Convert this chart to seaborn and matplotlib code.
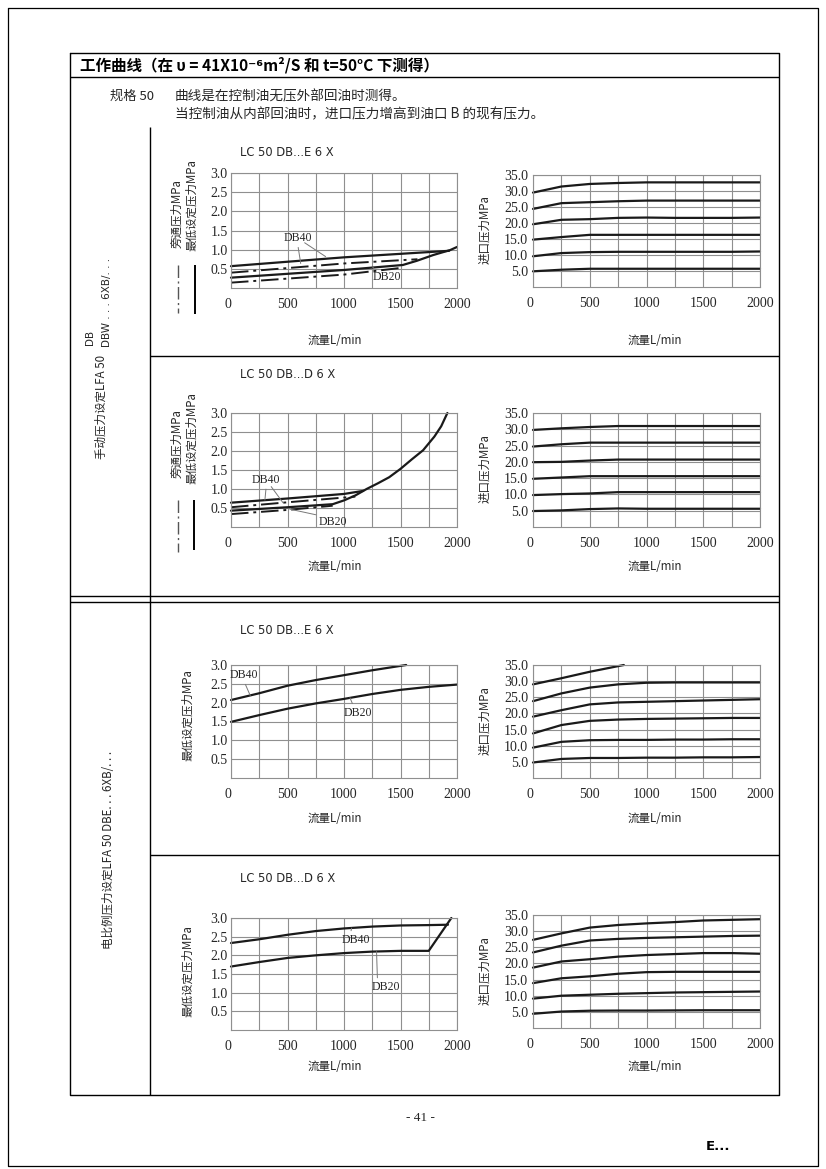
import matplotlib
matplotlib.use("Agg")
import matplotlib.pyplot as plt
import seaborn as sns

# ---------------- data ----------------
flow_grid = [0, 250, 500, 750, 1000, 1250, 1500, 1750, 2000]
x_ticks = [0, 500, 1000, 1500, 2000]
x_tick_labels = ["0", "500", "1000", "1500", "2000"]
x_minor = [250, 750, 1250, 1750]
yl_ticks = [0.5, 1.0, 1.5, 2.0, 2.5, 3.0]
yl_tick_labels = ["0.5", "1.0", "1.5", "2.0", "2.5", "3.0"]
yr_ticks = [5, 10, 15, 20, 25, 30, 35]
yr_tick_labels = ["5.0", "10.0", "15.0", "20.0", "25.0", "30.0", "35.0"]

# Chart 1: LC 50 DB...E 6 X (manual)
m_e_db40_min_x = [0, 1000, 1930]
m_e_db40_min_y = [0.57, 0.80, 0.97]
m_e_db40_byp_x = [0, 1000, 1650]
m_e_db40_byp_y = [0.40, 0.64, 0.75]
m_e_db20_min_x = [0, 500, 1000, 1520, 1645, 1790, 1940, 2000]
m_e_db20_min_y = [0.27, 0.37, 0.47, 0.60, 0.71, 0.86, 0.99, 1.07]
m_e_db20_byp_x = [0, 1000, 1520]
m_e_db20_byp_y = [0.14, 0.35, 0.53]

# Chart 2: LC 50 DB...D 6 X (manual)
m_d_db40_min_x = [0, 500, 1000, 1170]
m_d_db40_min_y = [0.64, 0.75, 0.87, 0.95]
m_d_db40_byp_x = [0, 500, 1100]
m_d_db40_byp_y = [0.52, 0.65, 0.80]
m_d_db20_min_x = [0, 500, 900, 1000, 1100, 1200, 1300, 1400, 1500, 1600, 1700, 1800, 1860, 1915]
m_d_db20_min_y = [0.43, 0.52, 0.60, 0.70, 0.83, 1.00, 1.15, 1.31, 1.53, 1.78, 2.02, 2.38, 2.65, 3.00]
m_d_db20_byp_x = [0, 500, 900]
m_d_db20_byp_y = [0.34, 0.45, 0.56]

# Chart 3: LC 50 DB...E 6 X (electric)
e_e_db40_x = [0, 250, 500, 750, 1000, 1250, 1550]
e_e_db40_y = [2.07, 2.25, 2.45, 2.60, 2.73, 2.86, 3.00]
e_e_db20_x = [0, 250, 500, 750, 1000, 1250, 1500, 1750, 2000]
e_e_db20_y = [1.49, 1.67, 1.84, 1.98, 2.10, 2.23, 2.34, 2.42, 2.48]

# Chart 4: LC 50 DB...D 6 X (electric)
e_d_db40_x = [0, 250, 500, 750, 1000, 1250, 1500, 1750, 1920]
e_d_db40_y = [2.33, 2.43, 2.55, 2.65, 2.72, 2.77, 2.80, 2.81, 2.82]
e_d_db20_x = [0, 250, 500, 750, 1000, 1250, 1500, 1750, 1950]
e_d_db20_y = [1.70, 1.82, 1.93, 2.00, 2.06, 2.10, 2.12, 2.12, 3.00]

# Inlet pressure charts (right column)
r1_curves = [
    [29.5, 31.4, 32.2, 32.5, 32.7, 32.7, 32.7, 32.7, 32.7],
    [24.4, 26.2, 26.5, 26.8, 27.0, 27.0, 27.0, 27.0, 27.0],
    [19.6, 21.0, 21.2, 21.6, 21.7, 21.6, 21.6, 21.6, 21.7],
    [14.8, 15.6, 16.3, 16.3, 16.3, 16.3, 16.3, 16.3, 16.3],
    [9.6, 10.6, 10.9, 11.0, 11.0, 11.0, 11.0, 11.0, 11.1],
    [4.9, 5.4, 5.7, 5.7, 5.7, 5.7, 5.7, 5.7, 5.7],
]
r2_curves = [
    [29.8, 30.3, 30.7, 31.0, 31.0, 31.0, 31.0, 31.0, 31.0],
    [24.7, 25.4, 25.9, 25.9, 25.9, 25.9, 25.9, 25.9, 25.9],
    [19.9, 20.0, 20.4, 20.7, 20.7, 20.7, 20.7, 20.7, 20.7],
    [14.8, 15.2, 15.6, 15.6, 15.6, 15.6, 15.6, 15.6, 15.6],
    [9.8, 10.1, 10.3, 10.7, 10.7, 10.7, 10.7, 10.7, 10.7],
    [4.9, 5.1, 5.5, 5.7, 5.6, 5.6, 5.6, 5.6, 5.6],
]
r3_top_x = [0, 250, 500, 800]
r3_top_y = [29.0, 30.9, 32.9, 35.0]
r3_curves = [
    [23.8, 26.2, 28.0, 29.0, 29.5, 29.6, 29.6, 29.6, 29.6],
    [19.0, 21.0, 22.8, 23.4, 23.6, 23.8, 24.0, 24.2, 24.4],
    [13.8, 16.4, 17.7, 18.1, 18.3, 18.4, 18.5, 18.6, 18.6],
    [9.4, 11.2, 11.7, 11.8, 11.8, 11.9, 11.9, 12.0, 12.0],
    [4.8, 5.9, 6.2, 6.2, 6.3, 6.3, 6.4, 6.4, 6.5],
]
r4_curves = [
    [27.3, 29.3, 31.1, 31.9, 32.4, 32.8, 33.3, 33.5, 33.7],
    [23.4, 25.5, 27.1, 27.6, 27.9, 28.1, 28.3, 28.5, 28.6],
    [18.7, 20.6, 21.3, 22.1, 22.6, 22.9, 23.2, 23.2, 23.0],
    [13.9, 15.4, 16.0, 16.8, 17.3, 17.4, 17.4, 17.4, 17.4],
    [9.1, 10.0, 10.3, 10.6, 10.8, 11.0, 11.1, 11.2, 11.3],
    [4.4, 5.1, 5.35, 5.4, 5.4, 5.45, 5.5, 5.5, 5.5],
]

# ---------------- style ----------------
sns.set_theme(style="white")
plt.rcParams["font.family"] = ["Noto Sans CJK SC", "DejaVu Sans"]
plt.rcParams["axes.unicode_minus"] = False

W, H = 826, 1169
fig = plt.figure(figsize=(W / 100, H / 100), dpi=100)
fig.patch.set_facecolor("white")

INK = "#1a1a1a"
GRID = "#8f8f8f"
TXT = "#262626"
SERIF = ["Liberation Serif", "DejaVu Serif"]
DASHDOT = (0, (9, 2.5, 1.5, 2.5))

bg = fig.add_axes([0, 0, 1, 1])
bg.set_xlim(0, W)
bg.set_ylim(H, 0)
bg.axis("off")
bg.set_zorder(-1)


def hline(y, x0, x1, lw=1.0):
    bg.plot([x0, x1], [y, y], color="black", lw=lw, solid_capstyle="butt")


def vline(x, y0, y1, lw=1.0, **kw):
    bg.plot([x, x], [y0, y1], lw=lw, solid_capstyle="butt", **kw)


# page border
bg.plot([8, 818, 818, 8, 8], [8, 8, 1166, 1166, 8], color="black", lw=0.9)
# table
bg.plot([70, 779, 779, 70, 70], [53, 53, 1095, 1095, 53], color="black", lw=1.0)
hline(77, 70, 779)
vline(150, 127, 1095, color="black")
hline(356, 150, 779)
hline(596, 70, 779)
hline(602, 70, 779)
hline(855, 150, 779)

# header texts
bg.text(80, 65, "工作曲线（在 υ = 41X10⁻⁶m²/S 和 t=50°C 下测得）", fontsize=11.2,
        fontweight="bold", ha="left", va="center", color="black")
bg.text(110, 96, "规格 50", fontsize=9.5, ha="left", va="center", color=TXT)
bg.text(175, 96, "曲线是在控制油无压外部回油时测得。", fontsize=9.8, ha="left", va="center", color=TXT)
bg.text(175, 114, "当控制油从内部回油时，进口压力增高到油口 B 的现有压力。", fontsize=9.8,
        ha="left", va="center", color=TXT)

# left column labels
bg.text(101, 459, "手动压力设定LFA 50", fontsize=8.3, rotation=90, rotation_mode="anchor",
        ha="left", va="center", color=TXT)
bg.text(90, 345, "DB", fontsize=7.5, rotation=90, rotation_mode="anchor",
        ha="left", va="center", color=TXT, family="DejaVu Sans")
bg.text(107, 347, "DBW . . . 6XB/. . .", fontsize=7.5, rotation=90, rotation_mode="anchor",
        ha="left", va="center", color=TXT, family="DejaVu Sans")
bg.text(109, 949, "电比例压力设定LFA 50 DBE. . . 6XB/. . .", fontsize=8.3, rotation=90,
        rotation_mode="anchor", ha="left", va="center", color=TXT)

# footer
bg.text(420, 1118, "- 41 -", fontsize=9.5, ha="center", va="center", family=SERIF, color=TXT)
bg.text(706, 1146, "E...", fontsize=9.5, fontweight="bold", ha="left", va="center",
        family="DejaVu Sans", color="black")


def px_axes(x0, y0, x1, y1):
    return fig.add_axes([x0 / W, 1 - y1 / H, (x1 - x0) / W, (y1 - y0) / H])


def style(ax, right):
    ax.set_xlim(0, 2000)
    ax.set_xticks(x_ticks)
    ax.set_xticklabels(x_tick_labels)
    ax.set_xticks(x_minor, minor=True)
    if right:
        ax.set_ylim(0, 35)
        ax.set_yticks(yr_ticks)
        ax.set_yticklabels(yr_tick_labels)
    else:
        ax.set_ylim(0, 3.0)
        ax.set_yticks(yl_ticks)
        ax.set_yticklabels(yl_tick_labels)
    ax.set_facecolor("white")
    ax.grid(True, which="both", color=GRID, lw=0.8)
    ax.set_axisbelow(True)
    for s in ax.spines.values():
        s.set_color(GRID)
        s.set_linewidth(0.8)
        s.set_visible(True)
    ax.tick_params(which="both", length=0)
    ax.tick_params(axis="x", pad=7)
    ax.tick_params(axis="y", pad=3.5 if right else 2.5)
    for lab in ax.get_xticklabels() + ax.get_yticklabels():
        lab.set_family(SERIF)
        lab.set_fontsize(10)
        lab.set_color(TXT)
    ax.get_xticklabels()[0].set_ha("right")
    ax.set_xlabel("")
    ax.set_ylabel("")


def curve(ax, x, y, dashdot=False, lw=1.6):
    kw = dict(linestyle=DASHDOT) if dashdot else {}
    sns.lineplot(x=x, y=y, ax=ax, color=INK, lw=lw, sort=False, estimator=None, **kw)


def leader(ax, text, txy, targets):
    ax.annotate(text, xy=targets[0][1], xytext=txy, textcoords="data", fontsize=8.5,
                family=SERIF, ha="center", va="center", color=TXT,
                arrowprops=dict(arrowstyle="-", color="#777777", lw=0.7,
                                shrinkA=0, shrinkB=0, relpos=targets[0][0]))
    for rel, t in targets[1:]:
        ax.annotate("", xy=t, xytext=txy, textcoords="data",
                    arrowprops=dict(arrowstyle="-", color="#777777", lw=0.7,
                                    shrinkA=6, shrinkB=0))


rows = [
    dict(top=173, bot=288, rtop=175, rbot=287, title="LC 50 DB...E 6 X", ty=153, xl=340),
    dict(top=413, bot=527, rtop=413, rbot=527, title="LC 50 DB...D 6 X", ty=375, xl=567),
    dict(top=665, bot=778, rtop=665, rbot=778, title="LC 50 DB...E 6 X", ty=630, xl=818),
    dict(top=918, bot=1030, rtop=915, rbot=1028, title="LC 50 DB...D 6 X", ty=878, xl=1066),
]
right_sets = [r1_curves, r2_curves, r3_curves, r4_curves]

for i, r in enumerate(rows):
    axl = px_axes(231, r["top"], 457, r["bot"])
    axr = px_axes(533, r["rtop"], 760, r["rbot"])
    if i == 0:
        curve(axl, m_e_db40_min_x, m_e_db40_min_y)
        curve(axl, m_e_db40_byp_x, m_e_db40_byp_y, dashdot=True, lw=1.4)
        curve(axl, m_e_db20_min_x, m_e_db20_min_y)
        curve(axl, m_e_db20_byp_x, m_e_db20_byp_y, dashdot=True, lw=1.4)
        leader(axl, "DB40", (590, 1.30), [((0.5, 0), (617, 0.64)), ((0.5, 0), (837, 0.82))])
        leader(axl, "DB20", (1383, 0.29), [((0.2, 1), (1250, 0.55))])
    elif i == 1:
        curve(axl, m_d_db40_min_x, m_d_db40_min_y)
        curve(axl, m_d_db40_byp_x, m_d_db40_byp_y, dashdot=True, lw=1.4)
        curve(axl, m_d_db20_min_x, m_d_db20_min_y)
        curve(axl, m_d_db20_byp_x, m_d_db20_byp_y, dashdot=True, lw=1.4)
        leader(axl, "DB40", (312, 1.24), [((0.5, 0), (300, 0.71)), ((0.5, 0), (460, 0.64))])
        leader(axl, "DB20", (905, 0.13), [((0.1, 1), (520, 0.47))])
    elif i == 2:
        curve(axl, e_e_db40_x, e_e_db40_y)
        curve(axl, e_e_db20_x, e_e_db20_y)
        leader(axl, "DB40", (115, 2.73), [((0.5, 0), (170, 2.19))])
        leader(axl, "DB20", (1124, 1.73), [((0.35, 1), (1053, 2.13))])
    else:
        curve(axl, e_d_db40_x, e_d_db40_y)
        curve(axl, e_d_db20_x, e_d_db20_y)
        leader(axl, "DB40", (1106, 2.41), [((0.3, 1), (1068, 2.73))])
        leader(axl, "DB20", (1372, 1.15), [((0.2, 1), (1288, 2.10))])

    if i == 2:
        curve(axr, r3_top_x, r3_top_y)
    for ys in right_sets[i]:
        curve(axr, flow_grid, ys)

    style(axl, right=False)
    style(axr, right=True)
    for line in axl.get_lines() + axr.get_lines():
        line.set_clip_on(False)

    # chart titles and axis labels
    bg.text(240, r["ty"], r["title"], fontsize=8.3, ha="left", va="center",
            family="DejaVu Sans", color=TXT)
    bg.text(335, r["xl"], "流量L/min", fontsize=8.3, ha="center", va="center", color=TXT)
    bg.text(655, r["xl"], "流量L/min", fontsize=8.3, ha="center", va="center", color=TXT)
    rc = (r["rtop"] + r["rbot"]) / 2
    bg.text(485, rc - 1, "进口压力MPa", fontsize=8.3, rotation=90, ha="center", va="center", color=TXT)

# left y labels
bg.text(177, 214, "旁通压力MPa", fontsize=8.3, rotation=90, ha="center", va="center", color=TXT)
bg.text(192, 205, "最低设定压力MPa", fontsize=8.3, rotation=90, ha="center", va="center", color=TXT)
bg.text(177, 444, "旁通压力MPa", fontsize=8.3, rotation=90, ha="center", va="center", color=TXT)
bg.text(192, 438, "最低设定压力MPa", fontsize=8.3, rotation=90, ha="center", va="center", color=TXT)
bg.text(188, 715, "最低设定压力MPa", fontsize=8.3, rotation=90, ha="center", va="center", color=TXT)
bg.text(188, 971, "最低设定压力MPa", fontsize=8.3, rotation=90, ha="center", va="center", color=TXT)

# legend keys (dash-dot = bypass, solid = minimum setting)
vline(178, 265, 313, lw=1.0, color="#555555", linestyle=DASHDOT)
vline(195, 265, 314, lw=1.4, color="black")
vline(178, 500, 552, lw=1.0, color="#555555", linestyle=DASHDOT)
vline(194, 500, 550, lw=1.4, color="black")

fig.savefig("out.png", dpi=100, facecolor="white")
